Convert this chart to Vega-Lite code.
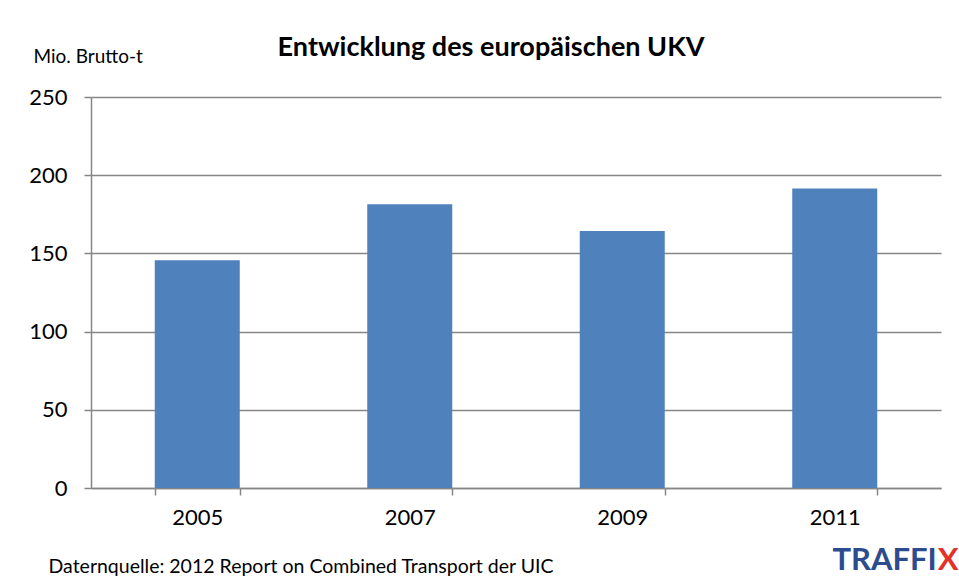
{
  "$schema": "https://vega.github.io/schema/vega-lite/v6.json",
  "autosize": "none",
  "width": 850,
  "height": 391,
  "padding": {"left": 91, "top": 97, "right": 18, "bottom": 91},
  "background": "white",
  "config": {
    "font": "Lato",
    "view": {"stroke": null}
  },
  "title": {
    "text": "Entwicklung des europäischen UKV",
    "font": "Lato",
    "fontSize": 27,
    "fontWeight": "bold",
    "color": "#000000",
    "anchor": "middle",
    "dx": -25,
    "offset": -15
  },
  "data": {
    "values": [
      {"year": "2005", "value": 145.6},
      {"year": "2007", "value": 181.5},
      {"year": "2009", "value": 164.3},
      {"year": "2011", "value": 191.5}
    ]
  },
  "resolve": {"scale": {"y": "independent"}},
  "encoding": {
    "x": {
      "field": "year",
      "type": "nominal",
      "sort": null,
      "scale": {"paddingInner": 0.6, "paddingOuter": 0.3},
      "axis": {
        "title": "Daternquelle: 2012 Report on Combined Transport der UIC",
        "titleFont": "Lato",
        "titleFontSize": 19.5,
        "titleFontWeight": "normal",
        "titleColor": "#000000",
        "titleAnchor": "start",
        "titleAlign": "left",
        "titleBaseline": "alphabetic",
        "titleX": -43,
        "titleY": 84,
        "labelAngle": 0,
        "labelFont": "Lato",
        "labelFontSize": 22,
        "labelColor": "#000000",
        "labelPadding": 12,
        "tickBand": "extent",
        "tickSize": 7,
        "tickColor": "#868686",
        "tickWidth": 1.5,
        "domainColor": "#868686",
        "domainWidth": 1.5,
        "grid": false
      }
    }
  },
  "layer": [
    {
      "mark": {"type": "bar", "color": "#4F81BD"},
      "encoding": {
        "y": {
          "field": "value",
          "type": "quantitative",
          "scale": {"domain": [0, 250], "nice": false},
          "axis": {
            "values": [0, 50, 100, 150, 200, 250],
            "title": "Mio. Brutto-t",
            "titleAngle": 0,
            "titleAlign": "left",
            "titleBaseline": "alphabetic",
            "titleX": -58,
            "titleY": -35,
            "titleFont": "Lato",
            "titleFontSize": 19,
            "titleFontWeight": "normal",
            "titleColor": "#000000",
            "labelFont": "Lato",
            "labelFontSize": 22,
            "labelColor": "#000000",
            "labelPadding": 17,
            "tickSize": 7,
            "tickColor": "#868686",
            "tickWidth": 1.5,
            "domainColor": "#868686",
            "domainWidth": 1.5,
            "grid": true,
            "gridColor": "#868686",
            "gridWidth": 1.5
          }
        }
      }
    },
    {
      "data": {"values": [{"t": "TRAFFI", "pos": -52.5}]},
      "mark": {"type": "text", "align": "right", "baseline": "alphabetic", "font": "Lato", "fontSize": 31, "fontWeight": "bold", "color": "#2D4C8E", "dx": 102},
      "encoding": {
        "x": {"datum": "2011"},
        "y": {"field": "pos", "type": "quantitative", "scale": {"domain": [0, 250], "nice": false}, "axis": null},
        "text": {"field": "t"}
      }
    },
    {
      "data": {"values": [{"t": "X", "pos": -52.5}]},
      "mark": {"type": "text", "align": "left", "baseline": "alphabetic", "font": "Lato", "fontSize": 31, "fontWeight": "bold", "color": "#E3322A", "dx": 103},
      "encoding": {
        "x": {"datum": "2011"},
        "y": {"field": "pos", "type": "quantitative", "scale": {"domain": [0, 250], "nice": false}, "axis": null},
        "text": {"field": "t"}
      }
    }
  ]
}
